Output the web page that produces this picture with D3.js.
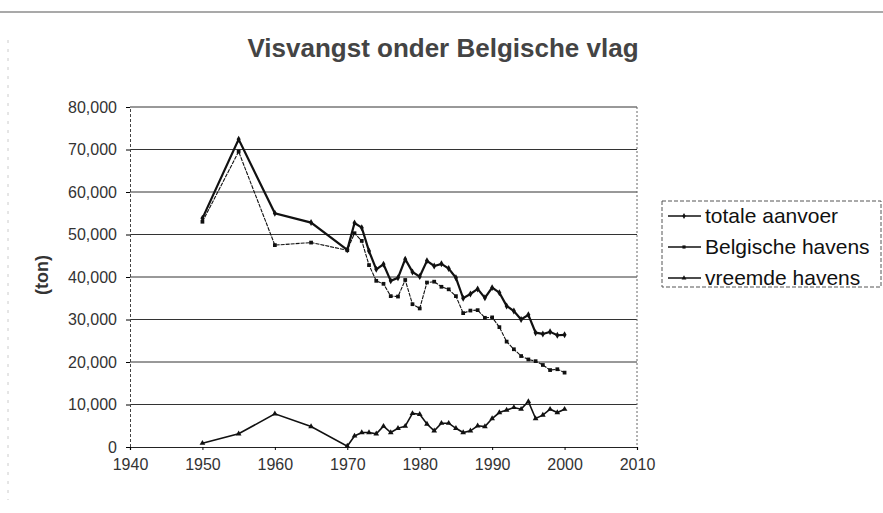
<!DOCTYPE html>
<html>
<head>
<meta charset="utf-8">
<script src="https://cdn.jsdelivr.net/npm/d3@7"></script>
<style>
  body { margin: 0; background: #fff; }
  svg { display: block; font-family: "Liberation Sans", Arial, sans-serif; }
</style>
</head>
<body>
<div id="chart"></div>
<script>
// years and series (ton)
const years = [1950, 1955, 1960, 1965, 1970, 1971, 1972, 1973, 1974, 1975, 1976, 1977, 1978, 1979,
  1980, 1981, 1982, 1983, 1984, 1985, 1986, 1987, 1988, 1989, 1990, 1991, 1992, 1993, 1994, 1995,
  1996, 1997, 1998, 1999, 2000]
const totaal = [53800, 72400, 55000, 52800, 46400, 52700, 51600, 46100, 41800, 43000, 39100, 39800, 44200, 41200,
  40100, 43800, 42600, 43100, 42000, 39800, 35000, 36000, 37200, 35100, 37500, 36300, 33200, 32000, 30000, 31100,
  26900, 26600, 27100, 26300, 26400]
const belgisch = [53000, 69500, 47500, 48100, 46300, 50300, 48500, 42800, 39100, 38400, 35500, 35400, 39300, 33600,
  32600, 38700, 38900, 37700, 37100, 35500, 31500, 32100, 32200, 30400, 30500, 28200, 24800, 23000, 21400, 20600,
  20200, 19300, 18100, 18300, 17500]
const vreemd = [900, 3100, 7800, 4800, 200, 2600, 3400, 3400, 3100, 4900, 3400, 4400, 4900, 7900,
  7700, 5400, 3800, 5600, 5600, 4400, 3400, 3800, 5000, 4800, 6700, 8100, 8700, 9300, 8900, 10700,
  6700, 7500, 8900, 8100, 8900]
const seriesNames = ["totale aanvoer", "Belgische havens", "vreemde havens"]
const xTicks = [1940, 1950, 1960, 1970, 1980, 1990, 2000, 2010]
const yTicks = [0, 10000, 20000, 30000, 40000, 50000, 60000, 70000, 80000]

const width = 883, height = 513
const plot = {left: 130, right: 637, top: 107, bottom: 447}

const svg = d3.select("#chart").append("svg")
  .attr("width", width).attr("height", height)

// scan edges
svg.append("line").attr("x1", 0).attr("x2", width).attr("y1", 12).attr("y2", 12)
  .attr("stroke", "#555").attr("stroke-width", 1.2)
svg.append("line").attr("x1", 8).attr("x2", 8).attr("y1", 40).attr("y2", 500)
  .attr("stroke", "#ccc").attr("stroke-dasharray", "3,6")

const x = d3.scaleLinear().domain([1940, 2010]).range([plot.left, plot.right])
const y = d3.scaleLinear().domain([0, 80000]).range([plot.bottom, plot.top])

// title
svg.append("text").attr("x", 443).attr("y", 57).attr("text-anchor", "middle")
  .attr("font-size", 26).attr("font-weight", "bold").attr("fill", "#444")
  .text("Visvangst onder Belgische vlag")

// gridlines
svg.append("g").selectAll("line").data(yTicks.filter(d => d > 0)).enter().append("line")
  .attr("x1", plot.left).attr("x2", plot.right)
  .attr("y1", d => y(d)).attr("y2", d => y(d))
  .attr("stroke", "#333").attr("stroke-width", 1)

// right border
svg.append("line").attr("x1", plot.right).attr("x2", plot.right)
  .attr("y1", plot.top).attr("y2", plot.bottom)
  .attr("stroke", "#666").attr("stroke-dasharray", "2,2")

// axes
const yAxis = svg.append("g").attr("transform", `translate(${plot.left},0)`)
  .call(d3.axisLeft(y).tickValues(yTicks).tickSize(4).tickPadding(9).tickFormat(d3.format(",")))
yAxis.select(".domain").attr("stroke", "#444").attr("stroke-dasharray", "3,2")
yAxis.selectAll("text").attr("font-size", 16).attr("fill", "#333")
  .attr("font-family", "Liberation Sans, Arial, sans-serif")

const xAxis = svg.append("g").attr("transform", `translate(0,${plot.bottom})`)
  .call(d3.axisBottom(x).tickValues(xTicks).tickSize(3).tickPadding(9).tickFormat(d3.format("d")))
xAxis.select(".domain").attr("stroke", "#222").attr("stroke-width", 1.2)
xAxis.selectAll("text").attr("font-size", 16).attr("fill", "#333")
  .attr("font-family", "Liberation Sans, Arial, sans-serif")

// y label
svg.append("text").attr("transform", "translate(48,275) rotate(-90)")
  .attr("text-anchor", "middle").attr("font-size", 18).attr("font-weight", "bold")
  .attr("fill", "#333").text("(ton)")

const line = d3.line().x(d => x(d[0])).y(d => y(d[1]))
const styles = [
  {w: 2.2, dash: null, sym: d3.symbolDiamond},
  {w: 1.1, dash: "4,1", sym: d3.symbolSquare},
  {w: 1.6, dash: null, sym: d3.symbolTriangle}
]
const allSeries = [totaal, belgisch, vreemd]

allSeries.forEach((vals, i) => {
  const pts = years.map((yr, j) => [yr, vals[j]])
  svg.append("path").datum(pts)
    .attr("d", line).attr("fill", "none")
    .attr("stroke", "#111").attr("stroke-width", styles[i].w)
    .attr("stroke-dasharray", styles[i].dash)
  svg.append("g").selectAll("path").data(pts).enter().append("path")
    .attr("d", d3.symbol().type(styles[i].sym).size(14))
    .attr("transform", d => `translate(${x(d[0])},${y(d[1])})`)
    .attr("fill", "#111")
})

// legend
const lg = svg.append("g")
lg.append("rect").attr("x", 662).attr("y", 201).attr("width", 219).attr("height", 86)
  .attr("fill", "none").attr("stroke", "#555").attr("stroke-dasharray", "4,2")
seriesNames.forEach((name, i) => {
  const ly = 216 + i * 31
  lg.append("line").attr("x1", 668).attr("x2", 701).attr("y1", ly).attr("y2", ly)
    .attr("stroke", "#111").attr("stroke-width", 1.6)
  lg.append("path").attr("d", d3.symbol().type(styles[i].sym).size(10))
    .attr("transform", `translate(684,${ly})`).attr("fill", "#111")
  lg.append("text").attr("x", 705).attr("y", ly + 7).attr("font-size", 21)
    .attr("fill", "#111").text(name)
})
</script>
</body>
</html>
